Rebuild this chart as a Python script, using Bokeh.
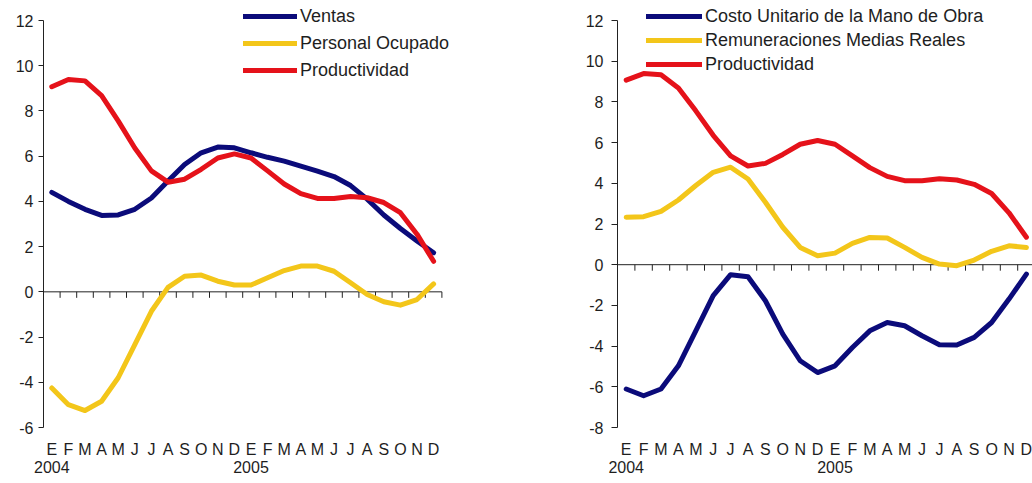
from bokeh.plotting import figure
from bokeh.models import (Range1d, FixedTicker, LinearAxis, Legend, LegendItem)
from bokeh.layouts import row
from bokeh.embed import file_html
from bokeh.resources import INLINE

months = ["E", "F", "M", "A", "M", "J", "J", "A", "S", "O", "N", "D",
          "E", "F", "M", "A", "M", "J", "J", "A", "S", "O", "N", "D"]
years = {0: "2004", 12: "2005"}

ventas = [4.4, 4.0, 3.65, 3.38, 3.4, 3.65, 4.15, 4.9, 5.63, 6.15, 6.4, 6.37,
          6.15, 5.95, 5.78, 5.56, 5.34, 5.1, 4.7, 4.1, 3.4, 2.8, 2.25, 1.73]
personal = [-4.25, -4.99, -5.25, -4.84, -3.8, -2.33, -0.86, 0.2, 0.69, 0.74, 0.47, 0.3,
            0.3, 0.62, 0.94, 1.14, 1.14, 0.91, 0.4, -0.12, -0.44, -0.59, -0.34, 0.35]
productividad = [9.07, 9.39, 9.33, 8.68, 7.56, 6.36, 5.35, 4.85, 4.98, 5.42, 5.92, 6.1,
                 5.92, 5.35, 4.77, 4.34, 4.13, 4.13, 4.22, 4.16, 3.95, 3.5, 2.55, 1.35]
clu = [-6.11, -6.44, -6.11, -4.97, -3.25, -1.52, -0.49, -0.59, -1.77, -3.41, -4.72, -5.3,
       -4.97, -4.07, -3.25, -2.84, -3.0, -3.49, -3.93, -3.95, -3.57, -2.84, -1.69, -0.46]
remuneraciones = [2.33, 2.36, 2.62, 3.18, 3.89, 4.54, 4.79, 4.21, 3.07, 1.84, 0.85, 0.44,
                  0.57, 1.05, 1.34, 1.31, 0.85, 0.36, 0.03, -0.05, 0.23, 0.66, 0.93, 0.85]

NAVY = "#0b0b7a"
YELLOW = "#f3c61a"
RED = "#e5121a"
FONT = "Liberation Sans"
TXT = "#1e1e1e"
AX = "#222222"

x = list(range(len(months)))
FRAME_BOTTOM = 427   # px from top of figure
HEIGHT = 483


def make_fig(width, border_left, px_per_cat, y0, y1, tick_out, standoff):
    frame_w = width - border_left
    x_end = -0.5 + frame_w / px_per_cat
    px_per_unit = (FRAME_BOTTOM - 20) / (y1 - y0)
    y_end = y1 + 20 / px_per_unit
    p = figure(width=width, height=HEIGHT, output_backend="svg", toolbar_location=None,
               x_range=Range1d(-0.5, x_end), y_range=Range1d(y0, y_end),
               min_border_left=border_left, min_border_right=0,
               min_border_top=0, min_border_bottom=HEIGHT - FRAME_BOTTOM)
    p.outline_line_color = None
    p.grid.visible = False
    p.background_fill_color = "white"
    p.border_fill_color = "white"
    # y axis
    yticks = list(range(int(y0), int(y1) + 1, 2))
    ya = p.yaxis[0]
    ya.ticker = FixedTicker(ticks=yticks)
    ya.major_label_overrides = {t: str(t) for t in yticks}
    ya.bounds = (y0, y1)
    ya.major_tick_in = 0
    ya.major_tick_out = tick_out
    ya.minor_tick_line_color = None
    ya.major_label_standoff = standoff
    ya.major_label_text_font = FONT
    ya.major_label_text_font_size = "16px"
    ya.major_label_text_color = TXT
    ya.axis_line_color = AX
    ya.major_tick_line_color = AX
    # month axis (default bottom axis)
    xa = p.xaxis[0]
    xa.ticker = FixedTicker(ticks=x)
    xa.major_label_overrides = {i: m for i, m in enumerate(months)}
    xa.axis_line_color = None
    xa.major_tick_line_color = None
    xa.minor_tick_line_color = None
    xa.major_tick_out = 0
    xa.major_tick_in = 0
    xa.major_label_standoff = 13
    xa.major_label_text_font = FONT
    xa.major_label_text_font_size = "16px"
    xa.major_label_text_color = TXT
    # year axis
    yr = LinearAxis(ticker=FixedTicker(ticks=list(years.keys())),
                    major_label_overrides=years,
                    axis_line_color=None, major_tick_line_color=None,
                    minor_tick_line_color=None, major_tick_out=0, major_tick_in=0,
                    major_label_standoff=0,
                    major_label_text_font=FONT, major_label_text_font_size="16px",
                    major_label_text_color=TXT)
    p.add_layout(yr, "below")
    # zero line with category-boundary ticks
    n = len(months)
    p.segment(x0=[-0.5], y0=[0], x1=[n - 0.5], y1=[0], line_color=AX, line_width=1)
    tick_len = 6 / px_per_unit
    bounds = [i + 0.5 for i in x]
    p.segment(x0=bounds, y0=[0] * n, x1=bounds, y1=[-tick_len] * n,
              line_color=AX, line_width=1)
    return p


def styled_legend(p, items, loc, glyph_w, row_h, spacing):
    leg = Legend(items=items, location=loc, orientation="vertical",
                 border_line_color=None, background_fill_alpha=0,
                 label_text_font=FONT, label_text_font_size="18px",
                 label_text_color=TXT, glyph_width=glyph_w, glyph_height=row_h,
                 label_height=row_h, label_standoff=3, spacing=spacing,
                 padding=0, margin=0)
    p.add_layout(leg, "center")


LW = 5

# Left chart
p1 = make_fig(560, 43, 16.6, -6, 12, 5, 5)
r1 = p1.line(x, ventas, line_color=NAVY, line_width=LW, line_join="round", line_cap="round")
r2 = p1.line(x, personal, line_color=YELLOW, line_width=LW, line_join="round", line_cap="round")
r3 = p1.line(x, productividad, line_color=RED, line_width=LW, line_join="round", line_cap="round")
styled_legend(p1, [LegendItem(label="Ventas", renderers=[r1]),
                   LegendItem(label="Personal Ocupado", renderers=[r2]),
                   LegendItem(label="Productividad", renderers=[r3])],
              (200, FRAME_BOTTOM - 83), 54, 26, 1)

# Right chart
p2 = make_fig(472, 57, 17.4, -8, 12, 6, 8)
s1 = p2.line(x, clu, line_color=NAVY, line_width=LW, line_join="round", line_cap="round")
s2 = p2.line(x, remuneraciones, line_color=YELLOW, line_width=LW, line_join="round", line_cap="round")
s3 = p2.line(x, productividad, line_color=RED, line_width=LW, line_join="round", line_cap="round")
styled_legend(p2, [LegendItem(label="Costo Unitario de la Mano de Obra", renderers=[s1]),
                   LegendItem(label="Remuneraciones Medias Reales", renderers=[s2]),
                   LegendItem(label="Productividad", renderers=[s3])],
              (29, FRAME_BOTTOM - 76), 56, 24, 0)

layout = row(p1, p2)
open("out.html", "w").write(file_html(layout, INLINE))
